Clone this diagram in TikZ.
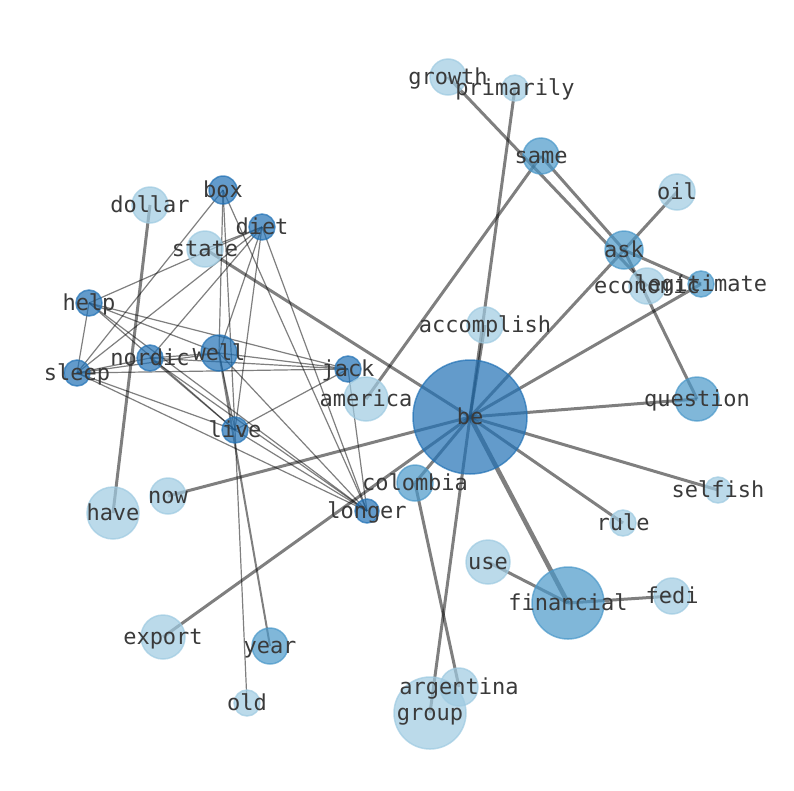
\documentclass[tikz,border=0pt]{standalone}
\usepackage{fontspec}
\setmonofont{DejaVu Sans Mono}
\usepackage{tikz}

\definecolor{bluedark}{HTML}{2171B5}
\definecolor{bluemid}{HTML}{4A98C9}
\definecolor{bluelight}{HTML}{9ECAE1}
\definecolor{wordgray}{HTML}{3A3A3A}

\pgfdeclarelayer{links}
\pgfsetlayers{links,main}

\tikzset{
	word/.style={font=\ttfamily\fontsize{22}{24}\selectfont, text=wordgray,
		inner sep=0pt, anchor=center, text height=12pt, text depth=4pt, yshift=-3pt},
	dot/.style={circle, inner sep=0pt, line width=1.5pt, fill opacity=0.7, draw opacity=0.7},
	darkdot/.style={dot, draw=bluedark, fill=bluedark},
	middot/.style={dot, draw=bluemid, fill=bluemid},
	lightdot/.style={dot, draw=bluelight, fill=bluelight},
	thinlink/.style={draw=black, draw opacity=0.5, line width=1.2pt},
	midlink/.style={draw=black, draw opacity=0.5, line width=2pt},
	thicklink/.style={draw=black, draw opacity=0.5, line width=3pt}
}

\begin{document}
\begin{tikzpicture}[x=1pt,y=-1pt]
		\useasboundingbox (0,0) rectangle (794,790);

		% word circles
		\node[darkdot, minimum size=114pt] (be) at (470,417) {};
		\node[darkdot, minimum size=28pt] (box) at (223,190) {};
		\node[darkdot, minimum size=26pt] (diet) at (262,227) {};
		\node[darkdot, minimum size=26pt] (help) at (89,303) {};
		\node[darkdot, minimum size=26pt] (nordic) at (150,358) {};
		\node[darkdot, minimum size=36pt] (well) at (219,353) {};
		\node[darkdot, minimum size=26pt] (sleep) at (77,373) {};
		\node[darkdot, minimum size=26pt] (jack) at (348,369) {};
		\node[darkdot, minimum size=26pt] (live) at (235,430) {};
		\node[darkdot, minimum size=24pt] (longer) at (367,511) {};
		\node[middot, minimum size=72pt] (financial) at (568,603) {};
		\node[middot, minimum size=44pt] (question) at (697,399) {};
		\node[middot, minimum size=38pt] (ask) at (624,250) {};
		\node[middot, minimum size=36pt] (same) at (541,156) {};
		\node[middot, minimum size=36pt] (colombia) at (415,483) {};
		\node[middot, minimum size=36pt] (year) at (270,646) {};
		\node[middot, minimum size=26pt] (legitimate) at (701,284) {};
		\node[lightdot, minimum size=72pt] (group) at (430,713) {};
		\node[lightdot, minimum size=38pt] (argentina) at (459,687) {};
		\node[lightdot, minimum size=52pt] (have) at (113,513) {};
		\node[lightdot, minimum size=36pt] (now) at (168,496) {};
		\node[lightdot, minimum size=44pt] (export) at (163,637) {};
		\node[lightdot, minimum size=26pt] (old) at (247,703) {};
		\node[lightdot, minimum size=44pt] (america) at (366,399) {};
		\node[lightdot, minimum size=36pt] (state) at (205,249) {};
		\node[lightdot, minimum size=36pt] (dollar) at (150,205) {};
		\node[lightdot, minimum size=36pt] (accomplish) at (485,325) {};
		\node[lightdot, minimum size=36pt] (growth) at (448,77) {};
		\node[lightdot, minimum size=26pt] (primarily) at (515,88) {};
		\node[lightdot, minimum size=36pt] (oil) at (677,192) {};
		\node[lightdot, minimum size=36pt] (economic) at (647,286) {};
		\node[lightdot, minimum size=26pt] (selfish) at (718,490) {};
		\node[lightdot, minimum size=26pt] (rule) at (623,523) {};
		\node[lightdot, minimum size=44pt] (use) at (488,562) {};
		\node[lightdot, minimum size=36pt] (fedi) at (672,596) {};

		% links, kept under the circles
		\begin{pgfonlayer}{links}
		\draw[thicklink] (dollar.center) -- (have.center);
		\draw[thicklink] (state.center) -- (be.center);
		\draw[thicklink] (same.center) -- (america.center);
		\draw[thicklink] (growth.center) -- (economic.center);
		\draw[thicklink] (same.center) -- (ask.center);
		\draw[thicklink] (ask.center) -- (oil.center);
		\draw[thicklink] (ask.center) -- (legitimate.center);
		\draw[thicklink] (ask.center) -- (question.center);
		\draw[thicklink] (ask.center) -- (be.center);
		\draw[thicklink] (legitimate.center) -- (be.center);
		\draw[thicklink] (primarily.center) -- (be.center);
		\draw[thicklink] (accomplish.center) -- (be.center);
		\draw[thicklink] (be.center) -- (question.center);
		\draw[thicklink] (be.center) -- (selfish.center);
		\draw[thicklink] (be.center) -- (rule.center);
		\draw[thicklink, line width=4.5pt] (be.center) -- (financial.center);
		\draw[thicklink] (use.center) -- (financial.center);
		\draw[thicklink] (financial.center) -- (fedi.center);
		\draw[thicklink] (be.center) -- (group.center);
		\draw[thicklink] (colombia.center) -- (argentina.center);
		\draw[thicklink] (be.center) -- (colombia.center);
		\draw[thicklink] (be.center) -- (now.center);
		\draw[thicklink] (be.center) -- (export.center);
		\draw[midlink] (well.center) -- (year.center);
		% the sentence cluster on the left
		\draw[thinlink] (box.center) -- (sleep.center);
		\draw[thinlink] (box.center) -- (well.center);
		\draw[thinlink] (box.center) -- (live.center);
		\draw[thinlink] (box.center) -- (longer.center);
		\draw[thinlink] (diet.center) -- (state.center);
		\draw[thinlink] (diet.center) -- (help.center);
		\draw[thinlink] (diet.center) -- (nordic.center);
		\draw[thinlink] (diet.center) -- (sleep.center);
		\draw[thinlink] (diet.center) -- (well.center);
		\draw[thinlink] (diet.center) -- (live.center);
		\draw[thinlink] (diet.center) -- (longer.center);
		\draw[thinlink] (help.center) -- (sleep.center);
		\draw[thinlink] (help.center) -- (well.center);
		\draw[thinlink] (help.center) -- (jack.center);
		\draw[thinlink] (help.center) -- (live.center);
		\draw[thinlink] (help.center) -- (longer.center);
		\draw[thinlink] (nordic.center) -- (sleep.center);
		\draw[thinlink] (nordic.center) -- (well.center);
		\draw[thinlink] (nordic.center) -- (jack.center);
		\draw[thinlink] (nordic.center) -- (live.center);
		\draw[thinlink] (nordic.center) -- (longer.center);
		\draw[thinlink] (sleep.center) -- (well.center);
		\draw[thinlink] (sleep.center) -- (jack.center);
		\draw[thinlink] (sleep.center) -- (live.center);
		\draw[thinlink] (sleep.center) -- (longer.center);
		\draw[thinlink] (well.center) -- (jack.center);
		\draw[thinlink] (well.center) -- (live.center);
		\draw[thinlink] (well.center) -- (longer.center);
		\draw[thinlink] (jack.center) -- (live.center);
		\draw[thinlink] (jack.center) -- (longer.center);
		\draw[thinlink] (live.center) -- (longer.center);
		\draw[thinlink] (live.center) -- (old.center);
		\end{pgfonlayer}

		% words on top
		\node[word] (be-w) at (be) {be};
		\node[word] (box-w) at (box) {box};
		\node[word] (diet-w) at (diet) {diet};
		\node[word] (help-w) at (help) {help};
		\node[word] (nordic-w) at (nordic) {nordic};
		\node[word] (well-w) at (well) {well};
		\node[word] (sleep-w) at (sleep) {sleep};
		\node[word] (jack-w) at (jack) {jack};
		\node[word] (live-w) at (live) {live};
		\node[word] (longer-w) at (longer) {longer};
		\node[word] (financial-w) at (financial) {financial};
		\node[word] (question-w) at (question) {question};
		\node[word] (ask-w) at (ask) {ask};
		\node[word] (same-w) at (same) {same};
		\node[word] (colombia-w) at (colombia) {colombia};
		\node[word] (year-w) at (year) {year};
		\node[word] (legitimate-w) at (legitimate) {legitimate};
		\node[word] (group-w) at (group) {group};
		\node[word] (argentina-w) at (argentina) {argentina};
		\node[word] (have-w) at (have) {have};
		\node[word] (now-w) at (now) {now};
		\node[word] (export-w) at (export) {export};
		\node[word] (old-w) at (old) {old};
		\node[word] (america-w) at (america) {america};
		\node[word] (state-w) at (state) {state};
		\node[word] (dollar-w) at (dollar) {dollar};
		\node[word] (accomplish-w) at (accomplish) {accomplish};
		\node[word] (growth-w) at (growth) {growth};
		\node[word] (primarily-w) at (primarily) {primarily};
		\node[word] (oil-w) at (oil) {oil};
		\node[word] (economic-w) at (economic) {economic};
		\node[word] (selfish-w) at (selfish) {selfish};
		\node[word] (rule-w) at (rule) {rule};
		\node[word] (use-w) at (use) {use};
		\node[word] (fedi-w) at (fedi) {fedi};
\end{tikzpicture}
\end{document}
